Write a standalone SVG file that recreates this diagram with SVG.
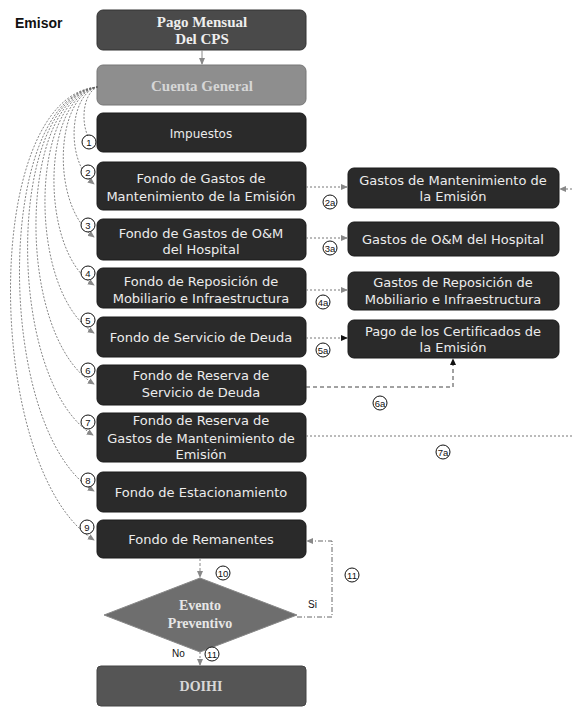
<svg xmlns="http://www.w3.org/2000/svg" width="572" height="710" viewBox="0 0 572 710">
<defs>
<style>
.box{fill:#2a2a2a;stroke:#1a1a1a;stroke-width:1}
.t{font-family:"DejaVu Sans",Verdana,sans-serif;font-size:13px;fill:#ececec;text-anchor:middle}
.ts{font-family:"Liberation Serif","Times New Roman",serif;font-size:15px;font-weight:bold;text-anchor:middle}
.cur{fill:none;stroke:#666;stroke-width:0.8;stroke-dasharray:2 1.5}
.dot{fill:none;stroke:#777;stroke-width:1;stroke-dasharray:2 2}
.dash{fill:none;stroke:#444;stroke-width:1;stroke-dasharray:4 3}
.num circle{fill:#fff;stroke:#111;stroke-width:1}
.num text{font-family:"Liberation Sans",Arial,sans-serif;font-size:9.5px;fill:#111;text-anchor:middle}
</style>
<marker id="ag" viewBox="0 0 8 8" refX="7" refY="4" markerWidth="7" markerHeight="7" orient="auto" markerUnits="userSpaceOnUse"><path d="M0,0.5 L8,4 L0,7.5 z" fill="#888"/></marker>
<marker id="ab" viewBox="0 0 8 8" refX="7" refY="4" markerWidth="7" markerHeight="7" orient="auto" markerUnits="userSpaceOnUse"><path d="M0,0.5 L8,4 L0,7.5 z" fill="#111"/></marker>
</defs>

<text x="15" y="28" font-family="Liberation Sans,Arial,sans-serif" font-size="14" font-weight="bold" fill="#111">Emisor</text>

<g id="pago">
<rect x="97" y="10" width="209" height="40" rx="6" fill="#4a4a4a" stroke="#333"/>
<text class="ts" x="202" y="27" fill="#eee">Pago Mensual</text>
<text class="ts" x="202" y="44" fill="#eee">Del CPS</text>
</g>
<g id="cuenta">
<rect x="97" y="65" width="209" height="40" rx="6" fill="#8e8e8e" stroke="#777"/>
<text class="ts" x="202" y="91" fill="#d6d6d6">Cuenta General</text>
</g>
<g id="impuestos">
<rect class="box" x="97" y="113" width="209" height="39" rx="6"/>
<text class="t" x="201" y="138" style="font-size:12px">Impuestos</text>
</g>
<g id="f2">
<rect class="box" x="97" y="162" width="209" height="48" rx="6"/>
<text class="t" x="201" y="183">Fondo de Gastos de</text>
<text class="t" x="201" y="201">Mantenimiento  de la Emisión</text>
</g>
<g id="f3">
<rect class="box" x="97" y="219" width="209" height="41" rx="6"/>
<text class="t" x="201" y="238">Fondo de Gastos de O&amp;M</text>
<text class="t" x="201" y="254">del Hospital</text>
</g>
<g id="f4">
<rect class="box" x="97" y="268" width="209" height="40" rx="6"/>
<text class="t" x="201" y="286">Fondo de Reposición de</text>
<text class="t" x="201" y="303">Mobiliario e Infraestructura</text>
</g>
<g id="f5">
<rect class="box" x="97" y="317" width="209" height="40" rx="6"/>
<text class="t" x="201" y="342">Fondo de Servicio de Deuda</text>
</g>
<g id="f6">
<rect class="box" x="97" y="365" width="209" height="40" rx="6"/>
<text class="t" x="201" y="380">Fondo de Reserva  de</text>
<text class="t" x="201" y="397">Servicio de Deuda</text>
</g>
<g id="f7">
<rect class="box" x="97" y="413" width="209" height="49" rx="6"/>
<text class="t" x="201" y="425">Fondo de Reserva de</text>
<text class="t" x="201" y="443">Gastos de Mantenimiento  de</text>
<text class="t" x="201" y="459">Emisión</text>
</g>
<g id="f8">
<rect class="box" x="97" y="472" width="209" height="40" rx="6"/>
<text class="t" x="201" y="497">Fondo de Estacionamiento</text>
</g>
<g id="f9">
<rect class="box" x="97" y="520" width="209" height="38" rx="6"/>
<text class="t" x="201" y="544">Fondo de Remanentes</text>
</g>
<g id="evento">
<polygon points="200,578 297,615 200,652 104,615" fill="#6e6e6e" stroke="#888"/>
<text class="ts" x="200" y="610" fill="#e6e6e6" style="font-size:14px">Evento</text>
<text class="ts" x="200" y="628" fill="#e6e6e6" style="font-size:14px">Preventivo</text>
</g>
<g id="doihi">
<rect x="97" y="666" width="209" height="40" rx="4" fill="#555" stroke="#444"/>
<text class="ts" x="201" y="691" fill="#d8d8d8" style="font-size:14px">DOIHI</text>
</g>

<g id="r1">
<rect class="box" x="348" y="168" width="211" height="40" rx="6"/>
<text class="t" x="453" y="185">Gastos de Mantenimiento de</text>
<text class="t" x="453" y="201">la Emisión</text>
</g>
<g id="r2">
<rect class="box" x="348" y="222" width="211" height="34" rx="6"/>
<text class="t" x="453" y="244">Gastos de O&amp;M del Hospital</text>
</g>
<g id="r3">
<rect class="box" x="348" y="272" width="211" height="38" rx="6"/>
<text class="t" x="453" y="287">Gastos de Reposición de</text>
<text class="t" x="453" y="304">Mobiliario e Infraestructura</text>
</g>
<g id="r4">
<rect class="box" x="348" y="320" width="211" height="38" rx="6"/>
<text class="t" x="453" y="336">Pago de los Certificados de</text>
<text class="t" x="453" y="352">la Emisión</text>
</g>

<g id="connectors">
<line x1="202" y1="50" x2="202" y2="64" stroke="#888" stroke-width="1" marker-end="url(#ag)"/>
<path class="cur" d="M98,87 C82,92 78,130 95,147" marker-end="url(#ag)"/>
<path class="cur" d="M98,87 C70,92 64,160 94,184" marker-end="url(#ag)"/>
<path class="cur" d="M98,87 C55,94 50,205 94,237" marker-end="url(#ag)"/>
<path class="cur" d="M98,87 C42,95 38,250 94,285" marker-end="url(#ag)"/>
<path class="cur" d="M98,87 C30,95 26,290 94,333" marker-end="url(#ag)"/>
<path class="cur" d="M98,87 C18,95 14,335 94,384" marker-end="url(#ag)"/>
<path class="cur" d="M98,87 C6,95 4,380 93,435" marker-end="url(#ag)"/>
<path class="cur" d="M98,87 C-6,95 -6,430 94,491" marker-end="url(#ag)"/>
<path class="cur" d="M98,87 C-20,95 -16,470 94,540" marker-end="url(#ag)"/>

<line class="dot" x1="306" y1="187" x2="347" y2="187" marker-end="url(#ag)"/>
<line class="dot" x1="572" y1="189" x2="560" y2="189" marker-end="url(#ag)"/>
<line class="dot" x1="306" y1="238" x2="347" y2="238" marker-end="url(#ag)"/>
<line class="dot" x1="306" y1="290" x2="347" y2="290" marker-end="url(#ag)"/>
<line class="dot" x1="306" y1="338" x2="347" y2="338" stroke="#444" marker-end="url(#ab)"/>
<path class="dash" d="M306,387 H453 V359" marker-end="url(#ab)"/>
<line class="dot" x1="306" y1="436" x2="572" y2="436" stroke="#888"/>

<line x1="200" y1="558" x2="200" y2="577" stroke="#888" stroke-width="1" stroke-dasharray="3 2" marker-end="url(#ag)"/>
<line x1="200" y1="652" x2="200" y2="665" stroke="#888" stroke-width="1" stroke-dasharray="2 2" marker-end="url(#ag)"/>
<path d="M297,617 H332 V541 H307" fill="none" stroke="#666" stroke-width="1" stroke-dasharray="5 2 1 2" marker-end="url(#ag)"/>
</g>

<g class="num">
<circle cx="89" cy="142" r="7"/><text x="89" y="145.5">1</text>
<circle cx="88" cy="172" r="7"/><text x="88" y="175.5">2</text>
<circle cx="88" cy="225" r="7"/><text x="88" y="228.5">3</text>
<circle cx="88" cy="273" r="7"/><text x="88" y="276.5">4</text>
<circle cx="88" cy="320" r="7"/><text x="88" y="323.5">5</text>
<circle cx="88" cy="370" r="7"/><text x="88" y="373.5">6</text>
<circle cx="88" cy="422" r="7"/><text x="88" y="425.5">7</text>
<circle cx="88" cy="480" r="7"/><text x="88" y="483.5">8</text>
<circle cx="87" cy="527" r="7"/><text x="87" y="530.5">9</text>
<circle cx="330" cy="202" r="7"/><text x="330" y="205.5">2a</text>
<circle cx="330" cy="248" r="7"/><text x="330" y="251.5">3a</text>
<circle cx="323" cy="302" r="7"/><text x="323" y="305.5">4a</text>
<circle cx="323" cy="350" r="7"/><text x="323" y="353.5">5a</text>
<circle cx="380" cy="403" r="7"/><text x="380" y="406.5">6a</text>
<circle cx="443" cy="452" r="7"/><text x="443" y="455.5">7a</text>
<circle cx="223" cy="573" r="7"/><text x="223" y="576.5">10</text>
<circle cx="352" cy="575" r="7"/><text x="352" y="578.5">11</text>
<circle cx="212" cy="654" r="7"/><text x="212" y="657.5">11</text>
</g>
<text x="308" y="608" font-family="Liberation Sans,Arial,sans-serif" font-size="10" fill="#111">Si</text>
<text x="172" y="657" font-family="Liberation Sans,Arial,sans-serif" font-size="10" fill="#111">No</text>
</svg>
